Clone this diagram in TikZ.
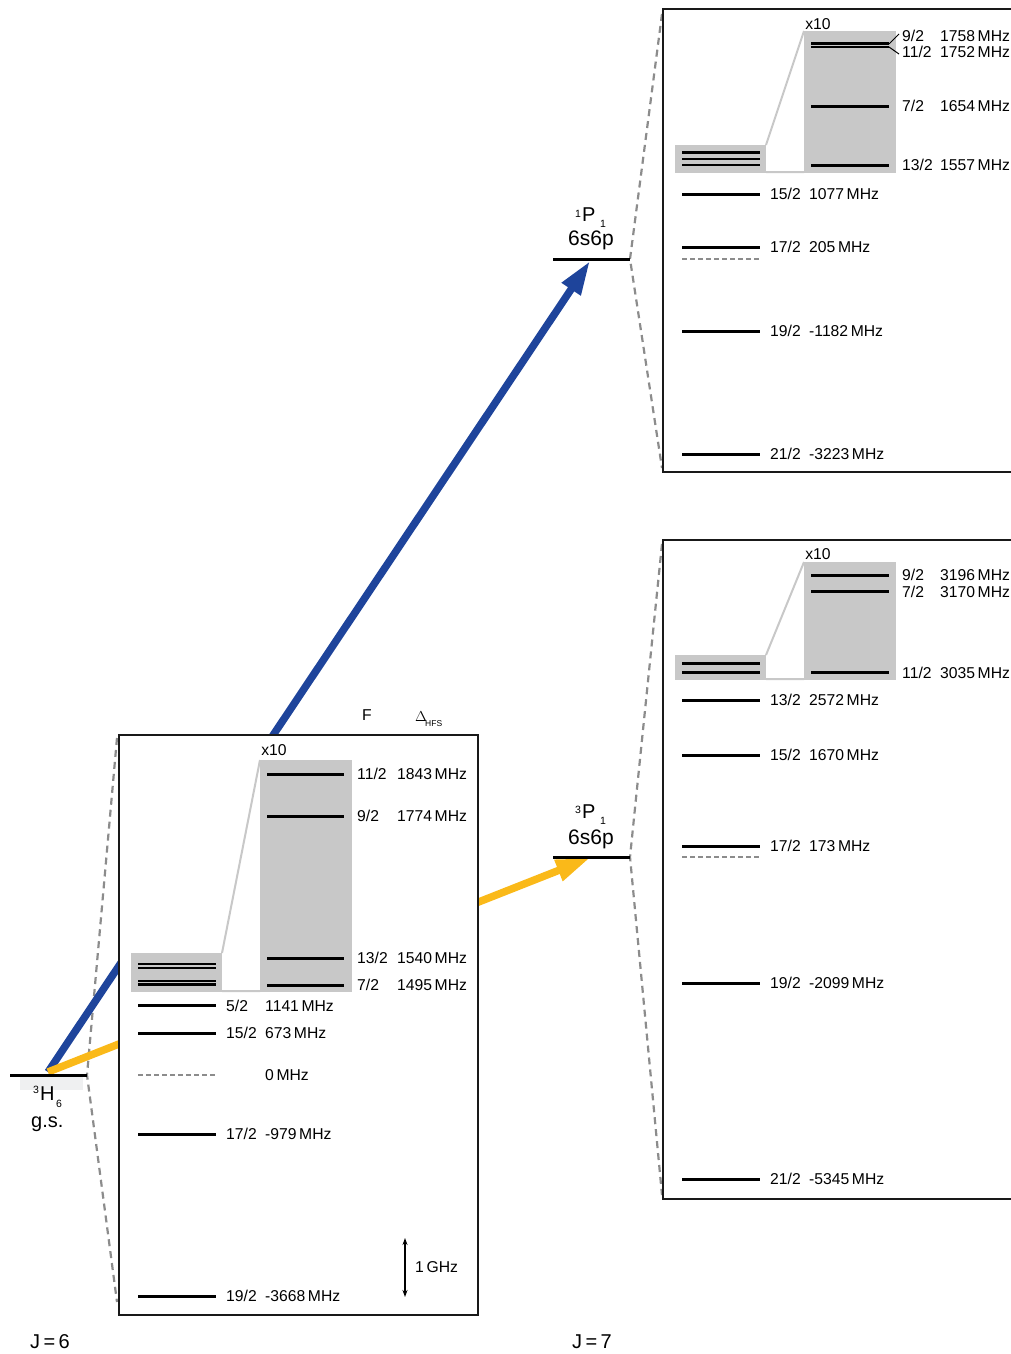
\documentclass[tikz,border=0pt]{standalone}
\usepackage{fontspec}
\setmainfont{Liberation Sans}
\usetikzlibrary{arrows.meta}
\definecolor{lgray}{HTML}{C8C8C8}
\definecolor{dgray}{HTML}{8C8C8C}
\definecolor{gsbg}{HTML}{EFF0F1}
\definecolor{myblue}{HTML}{1E449B}
\definecolor{myyellow}{HTML}{FAB919}
\begin{document}
\begin{tikzpicture}[x=1pt,y=-1pt,
 lvl/.style={line width=3pt, black},
 thinlvl/.style={line width=2.8pt, black},
 dlvl/.style={line width=2.6pt, dgray, dash pattern=on 5pt off 3pt},
 box/.style={line width=2pt, draw=black!90, fill=white},
 frameline/.style={line width=2pt, draw=black!90},
 zoomlink/.style={draw=lgray, line width=2pt},
 proj/.style={dgray, line width=2.2pt, dash pattern=on 7pt off 5pt},
 lab/.style={anchor=base west, inner sep=0pt, font=\fontsize{15.7}{18}\selectfont},
 big/.style={anchor=base west, inner sep=0pt, font=\fontsize{20}{22}\selectfont},
 bigger/.style={anchor=base west, inner sep=0pt, font=\fontsize{21}{24}\selectfont},
 small/.style={anchor=base west, inner sep=0pt, font=\fontsize{10.5}{12}\selectfont},
 beam/.style={line width=7.5pt, -{Triangle[length=34pt,width=21pt]}},
]
\useasboundingbox (0,0) rectangle (1011,1354);

% coordinates of levels
\coordinate (gsL) at (10,1075);
\coordinate (gsR) at (87,1075);
\coordinate (gsA) at (48,1072);
\coordinate (sL) at (553,259);
\coordinate (sR) at (630,259);
\coordinate (sA) at (590,261);
\coordinate (tL) at (553,857);
\coordinate (tR) at (630,857);
\coordinate (tA) at (590,858);
\coordinate (bxA) at (117,738);
\coordinate (bxB) at (117,1302);
\coordinate (rtA) at (662,14);
\coordinate (rtB) at (662,468);
\coordinate (rbA) at (662,544);
\coordinate (rbB) at (662,1195);

% projection lines
\draw[proj] (bxA) -- (gsR) -- (bxB);
\draw[proj] (rtA) -- (sR) -- (rtB);
\draw[proj] (rbA) -- (tR) -- (rbB);

% laser beams
\draw[beam, myblue] (gsA) -- (sA);
\draw[beam, myyellow] (gsA) -- (tA);

% ground state
\fill[gsbg] (20,1077) rectangle (83,1090);
\draw[lvl] (gsL) -- (gsR);
\node[small] (gs3) at (33,1093) {3};
\node[big] (gsH) at (40,1100) {H};
\node[small] (gs6) at (56,1107) {6};
\node[big] (gsgs) at (31,1127) {g.s.};

% 1P1
\draw[lvl] (sL) -- (sR);
\node[small] (s1a) at (575,217) {1};
\node[big] (sP) at (582,221) {P};
\node[small] (s1b) at (600,227) {1};
\node[bigger] (sc) at (568,245) {6s6p};

% 3P1
\draw[lvl] (tL) -- (tR);
\node[small] (t3a) at (575,813) {3};
\node[big] (tP) at (582,818) {P};
\node[small] (t1b) at (600,824) {1};
\node[bigger] (tc) at (568,844) {6s6p};

% J labels
\node[big] (J6) at (30,1348) {J\,=\,6};
\node[big] (J7) at (572,1348) {J\,=\,7};

% ===== left box (J=6, ground state) =====
\draw[box] (119,735) rectangle (478,1315);
\node[lab, anchor=base] (hF) at (367,720.5) {F};
\node[lab] (hD) at (415,721.5) {$\Delta$};
\node[inner sep=0pt, anchor=base west, font=\fontsize{8.5}{9}\selectfont] (hH) at (425,726) {HFS};
\node[lab, anchor=base] (lx) at (274,755.5) {x10};
\fill[lgray] (260,760) rectangle (352,992);
\fill[lgray] (131,953) rectangle (222,992);
\draw[zoomlink] (222,953) -- (260,760) (222,991) -- (260,991);
\foreach \y in {964,968,981,984.5} \draw[thinlvl] (138,\y) -- (216,\y);
\foreach \y/\f/\v in {774/11/1843, 816/9/1774, 958/13/1540, 985/7/1495} {
  \draw[lvl] (267,\y) -- (344,\y);
  \node[lab] at (357,{\y+5.5}) {\f/2};
  \node[lab] at (397,{\y+5.5}) {\v\,MHz};
}
\foreach \y/\f/\v in {1005.5/5/1141, 1033/15/673, 1134/17/-979, 1296/19/-3668} {
  \draw[lvl] (138,\y) -- (216,\y);
  \node[lab] at (226,{\y+5.5}) {\f/2};
  \node[lab] at (265,{\y+5.5}) {\v\,MHz};
}
\draw[dlvl] (138,1075) -- (216,1075);
\node[lab] (z0) at (265,1080.5) {0\,MHz};
\coordinate (gA) at (405,1238);
\coordinate (gB) at (405,1297);
\draw[line width=1.3pt, {Stealth[length=7pt,width=5pt]}-{Stealth[length=7pt,width=5pt]}] (gA) -- (gB);
\node[lab] (gl) at (415,1272.5) {1\,GHz};

% ===== top right box (1P1) =====
\draw[frameline] (1040,9) -- (663,9) -- (663,472) -- (1040,472);
\node[lab, anchor=base] (rx1) at (818,29.5) {x10};
\fill[lgray] (804,31) rectangle (896,173);
\fill[lgray] (675,145) rectangle (766,173);
\draw[zoomlink] (766,145) -- (804,31) (766,172) -- (804,172);
\foreach \y in {152.7,159,165} \draw[thinlvl] (682,\y) -- (760,\y);
\draw[thinlvl] (811,43.3) -- (889,43.3);
\draw[thinlvl] (811,47) -- (889,47);
\draw[line width=1pt] (889,44) -- (899,34);
\draw[line width=1pt] (889,47) -- (899,54);
\node[lab] at (902,41.5) {9/2};
\node[lab] at (940,41.5) {1758\,MHz};
\node[lab] at (902,57.5) {11/2};
\node[lab] at (940,57.5) {1752\,MHz};
\foreach \y/\f/\v in {106/7/1654, 165/13/1557} {
  \draw[lvl] (811,\y) -- (889,\y);
  \node[lab] at (902,{\y+5.5}) {\f/2};
  \node[lab] at (940,{\y+5.5}) {\v\,MHz};
}
\foreach \y/\f/\v in {194/15/1077, 247/17/205, 331/19/-1182, 454/21/-3223} {
  \draw[lvl] (682,\y) -- (760,\y);
  \node[lab] at (770,{\y+5.5}) {\f/2};
  \node[lab] at (809,{\y+5.5}) {\v\,MHz};
}
\draw[dlvl] (682,259) -- (760,259);

% ===== bottom right box (3P1) =====
\draw[frameline] (1040,540) -- (663,540) -- (663,1199) -- (1040,1199);
\node[lab, anchor=base] (rx2) at (818,559.5) {x10};
\fill[lgray] (804,562) rectangle (896,680);
\fill[lgray] (675,655) rectangle (766,680);
\draw[zoomlink] (766,655) -- (804,562) (766,679) -- (804,679);
\draw[line width=3.8pt] (682,663.5) -- (760,663.5);
\draw[thinlvl] (682,672.7) -- (760,672.7);
\foreach \y/\f/\v in {575/9/3196, 591.5/7/3170, 672.7/11/3035} {
  \draw[lvl] (811,\y) -- (889,\y);
  \node[lab] at (902,{\y+5.5}) {\f/2};
  \node[lab] at (940,{\y+5.5}) {\v\,MHz};
}
\foreach \y/\f/\v in {700/13/2572, 755/15/1670, 846/17/173, 983/19/-2099, 1179/21/-5345} {
  \draw[lvl] (682,\y) -- (760,\y);
  \node[lab] at (770,{\y+5.5}) {\f/2};
  \node[lab] at (809,{\y+5.5}) {\v\,MHz};
}
\draw[dlvl] (682,857) -- (760,857);
\end{tikzpicture}
\end{document}
